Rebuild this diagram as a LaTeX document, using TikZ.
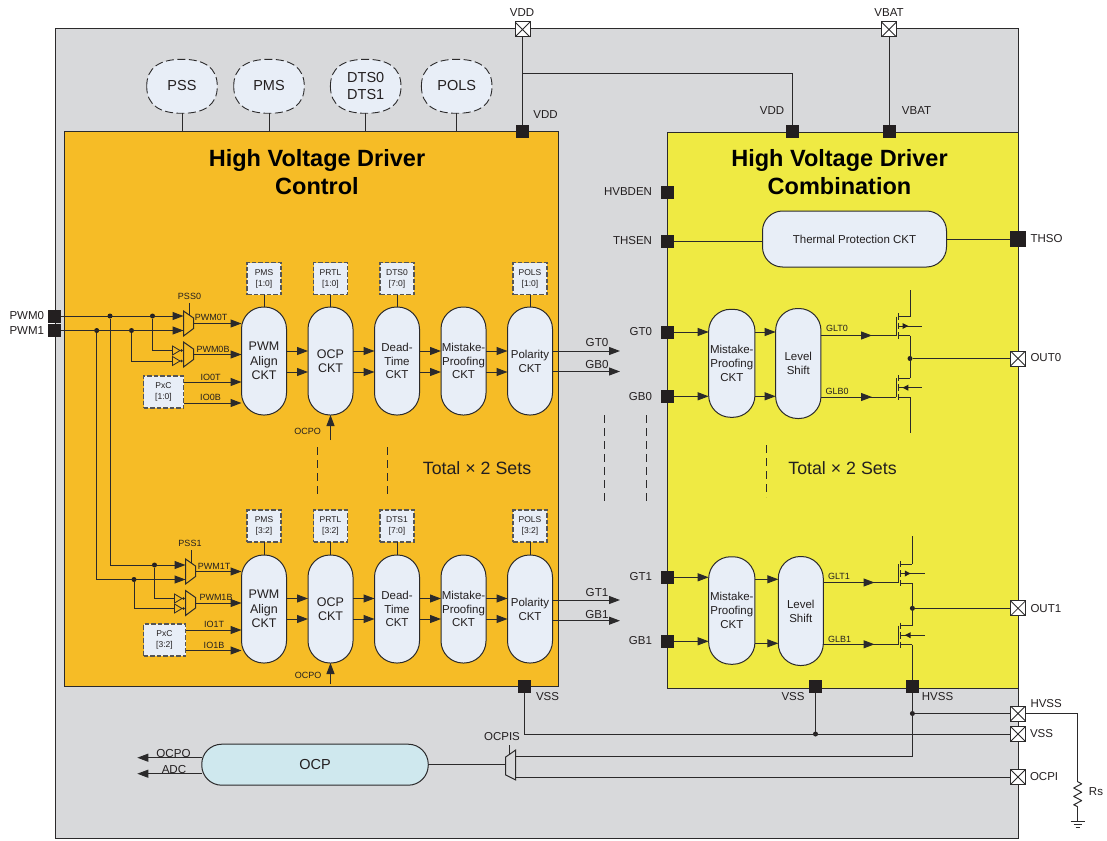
\documentclass[tikz,border=0pt]{standalone}
\usepackage{fontspec}
\setmainfont{Liberation Sans}
\usetikzlibrary{arrows.meta,calc}
\definecolor{lineC}{HTML}{2B2A2B}
\definecolor{grayBg}{HTML}{D8D9DB}
\definecolor{orangeBg}{HTML}{F6BC26}
\definecolor{yellowBg}{HTML}{EFEA43}
\definecolor{pillC}{HTML}{E8EEF7}
\definecolor{ocpC}{HTML}{CFE8EE}
\definecolor{textC}{HTML}{231F20}
\tikzset{
  x=1pt,y=-1pt,
  every node/.style={text=textC,inner sep=0pt,outer sep=0pt,align=center},
  sig/.style={draw=lineC,line width=1pt},
  arr/.style={sig,-{Triangle[length=11pt,width=8pt]}},
  region/.style={draw=lineC,line width=1pt},
  pill/.style 2 args={draw=lineC,line width=1pt,fill=pillC,rounded corners=22pt,minimum width=#1pt,minimum height=#2pt,font=\fontsize{12.5}{14.3}\selectfont},
  pilltext/.style={font=\fontsize{11.5}{13.8}\selectfont},
  ovaltext/.style={minimum width=71pt,minimum height=54pt,font=\fontsize{14.5}{17}\selectfont},
  regbox/.style={draw=lineC!80,line width=1.4pt,dash pattern=on 4.5pt off 2pt,fill=pillC,minimum width=34pt,minimum height=32pt,font=\fontsize{8.5}{11}\selectfont},
  pad/.style={fill=textC,minimum size=13pt},
  xpad/.style={draw=lineC,line width=1pt,fill=white,minimum size=15pt,path picture={\draw[lineC,line width=.8pt] (path picture bounding box.north west)--(path picture bounding box.south east) (path picture bounding box.north east)--(path picture bounding box.south west);}},
  dot/.style={circle,fill=textC,minimum size=5pt},
  lab/.style={font=\fontsize{11.5}{13}\selectfont},
  mlab/.style={font=\fontsize{11.6}{13}\selectfont},
  slab/.style={font=\fontsize{9}{11}\selectfont},
  title/.style={font=\fontsize{23.5}{28}\selectfont\bfseries,text=black},
  sets/.style={font=\fontsize{17.8}{20}\selectfont},
  dsh/.style={draw=lineC,line width=1pt,dash pattern=on 8pt off 5pt},
}
\newcommand{\blob}[2]{% centre x, centre y
  \draw[draw=lineC,line width=.9pt,dash pattern=on 8pt off 3.5pt,fill=pillC]
    (#1-35.3,#2) .. controls (#1-35.3,#2-19) and (#1-22,#2-27) .. (#1,#2-27)
    .. controls (#1+22,#2-27) and (#1+35.3,#2-19) .. (#1+35.3,#2)
    .. controls (#1+35.3,#2+19) and (#1+22,#2+27) .. (#1,#2+27)
    .. controls (#1-22,#2+27) and (#1-35.3,#2+19) .. cycle;
}
\newcommand{\muxshape}[3]{% name, left x, top y
  \draw[sig] (#2,#3) -- (#2+10,#3+7) -- (#2+10,#3+17.5) -- (#2,#3+25) -- cycle;
  \coordinate (#1) at (#2,#3+12.5);
  \coordinate (#1o) at (#2+10,#3+12.5);
}
\newcommand{\bufshape}[2]{% left x, centre y
  \draw[sig,line width=.8pt] (#1,#2-4.5) -- (#1+7.5,#2) -- (#1,#2+4.5) -- cycle;
  \fill[lineC] (#1+9,#2) circle (1.3pt);
}
\newcommand{\mosfet}[3]{% channel x, drain y, bulk direction (1 right, -1 left)
  \draw[sig] (#1-2.4,#2) -- (#1-2.4,#2+19);
  \draw[sig] (#1,#2-3.2) -- (#1,#2+3.2) (#1,#2+6.2) -- (#1,#2+12.8) (#1,#2+15.8) -- (#1,#2+22.2);
  \draw[sig] (#1,#2) -- (#1+11.7,#2) (#1,#2+9.5) -- (#1+24,#2+9.5) (#1,#2+19) -- (#1+11.7,#2+19);
  \fill[textC] (#1+7-2.9*#3,#2+9.5-3) -- (#1+7+2.9*#3,#2+9.5) -- (#1+7-2.9*#3,#2+9.5+3) -- cycle;
}
\begin{document}
\begin{tikzpicture}
\useasboundingbox (0,0) rectangle (1107,840);
% regions
\fill[white] (0,0) rectangle (1107,840);
\draw[region,fill=grayBg] (55,29) rectangle (1018,838);
\draw[region,fill=orangeBg] (64,131.5) rectangle (558,686);
\draw[region,fill=yellowBg] (667,132.5) rectangle (1018,688);
\node[title] (tL) at (317,172) {High Voltage Driver\\Control};
\node[title] (tR) at (839.5,172) {High Voltage Driver\\Combination};

% ovals
\blob{182}{86.3}
\blob{269}{86.3}
\blob{365.7}{86.3}
\blob{456.7}{86.3}
\node[ovaltext] (oPSS) at (182,86) {PSS};
\node[ovaltext] (oPMS) at (269,86) {PMS};
\node[ovaltext] (oDTS) at (365.7,86) {DTS0\\DTS1};
\node[ovaltext] (oPOLS) at (456.7,86) {POLS};
\coordinate (orTop) at (0,131.5);
\foreach \n in {oPSS,oPMS,oDTS,oPOLS} \draw[sig] (\n.south) -- (\n.south |- orTop);

% pads
\node[pad] (pPWM0) at (54.5,316) {};
\node[pad] (pPWM1) at (54.5,330.5) {};
\node[lab,anchor=east] (lPWM0) at (44,316) {PWM0};
\node[lab,anchor=east] (lPWM1) at (44,331) {PWM1};
\node[xpad] (xVDD) at (522.5,29.5) {};
\node[xpad] (xVBAT) at (889,29.5) {};
\node[lab] (lxVDD) at (522,12.5) {VDD};
\node[lab] (lxVBAT) at (889,12.5) {VBAT};
\node[pad] (pVDDL) at (522.5,131.5) {};
\node[pad] (pVDDR) at (792,131.5) {};
\node[pad] (pVBAT) at (889,131.5) {};
\node[lab] (lVDDL) at (545.5,115) {VDD};
\node[lab] (lVDDR) at (772,111) {VDD};
\node[lab] (lVBAT) at (916.5,110.5) {VBAT};
\coordinate (vddBr) at (522.5,74);
\draw[sig] (xVDD) -- (pVDDL);
\draw[sig] (vddBr) -| (pVDDR.north);
\draw[sig] (xVBAT) -- (pVBAT);

\node[pad] (pHVB) at (667.5,192) {};
\node[pad] (pTHSEN) at (667.5,241) {};
\node[pad] (pGT0) at (667.5,332) {};
\node[pad] (pGB0) at (667.5,396.3) {};
\node[pad] (pGT1) at (667.5,577.3) {};
\node[pad] (pGB1) at (667.5,641.3) {};
\node[lab,anchor=east] (lHVB) at (652,192) {HVBDEN};
\node[lab,anchor=east] (lTHSEN) at (652,241) {THSEN};
\node[lab,anchor=east] (lGT0) at (652,332) {GT0};
\node[lab,anchor=east] (lGB0) at (652,396.3) {GB0};
\node[lab,anchor=east] (lGT1) at (652,577) {GT1};
\node[lab,anchor=east] (lGB1) at (652,641) {GB1};

% thermal
\node[pill={184}{56},rounded corners=20pt,font=\fontsize{11.5}{14}\selectfont] (therm) at (854.5,239) {Thermal Protection CKT};
\node[pad,minimum size=16pt] (pTHSO) at (1018,239) {};
\node[lab,anchor=west] (lTHSO) at (1030.5,239) {THSO};
\draw[sig] (pTHSEN) -- (therm.west |- pTHSEN);
\draw[sig] (therm) -- (pTHSO);

% left pills, upper row
\node[pill={45}{108}] (a1) at (264,361) {PWM\\Align\\CKT};
\node[pill={45}{108}] (a2) at (330.5,361) {OCP\\CKT};
\node[pill={45}{108},pilltext] (a3) at (397,361) {Dead-\\Time\\CKT};
\node[pill={45}{108},pilltext] (a4) at (463.5,361) {Mistake-\\Proofing\\CKT};
\node[pill={45}{108},pilltext] (a5) at (530,361) {Polarity\\CKT};
\node[regbox] (ra1) at (264,278.5) {PMS\\{[1:0]}};
\node[regbox] (ra2) at (330.5,278.5) {PRTL\\{[1:0]}};
\node[regbox] (ra3) at (397,278.5) {DTS0\\{[7:0]}};
\node[regbox] (ra5) at (530,278.5) {POLS\\{[1:0]}};
\foreach \i in {1,2,3,5} \draw[sig] (ra\i) -- (a\i);
\foreach \i/\j in {1/2,2/3,3/4,4/5} {
  \draw[arr] (a\i.east |- 0,351) -- (a\j.west |- 0,351);
  \draw[arr] (a\i.east |- 0,372) -- (a\j.west |- 0,372);
}
% left pills, lower row
\node[pill={45}{108}] (b1) at (264,609) {PWM\\Align\\CKT};
\node[pill={45}{108}] (b2) at (330.5,609) {OCP\\CKT};
\node[pill={45}{108},pilltext] (b3) at (397,609) {Dead-\\Time\\CKT};
\node[pill={45}{108},pilltext] (b4) at (463.5,609) {Mistake-\\Proofing\\CKT};
\node[pill={45}{108},pilltext] (b5) at (530,609) {Polarity\\CKT};
\node[regbox] (rb1) at (264,526) {PMS\\{[3:2]}};
\node[regbox] (rb2) at (330.5,526) {PRTL\\{[3:2]}};
\node[regbox] (rb3) at (397,526) {DTS1\\{[7:0]}};
\node[regbox] (rb5) at (530,526) {POLS\\{[3:2]}};
\foreach \i in {1,2,3,5} \draw[sig] (rb\i) -- (b\i);
\foreach \i/\j in {1/2,2/3,3/4,4/5} {
  \draw[arr] (b\i.east |- 0,598.5) -- (b\j.west |- 0,598.5);
  \draw[arr] (b\i.east |- 0,619) -- (b\j.west |- 0,619);
}
% OCPO inputs
\coordinate (oa) at (330.5,440);
\coordinate (ob) at (330.5,684);
\draw[arr] (oa) -- (a2.south);
\draw[arr] (ob) -- (b2.south);
\node[slab] (loa) at (307.5,431) {OCPO};
\node[slab] (lob) at (308,675) {OCPO};
% PWM routing, upper
\node[dot] (j1) at (110,316) {};
\node[dot] (j2) at (96.7,330.5) {};
\node[dot] (j3) at (152.5,316) {};
\node[dot] (j4) at (131.5,330.5) {};
\muxshape{m0}{183.5}{311}
\muxshape{m0b}{183.5}{342}
\draw[arr] (pPWM0) -- (m0 |- pPWM0);
\draw[arr] (pPWM1) -- (m0 |- pPWM1);
\bufshape{172.5}{350.5}
\bufshape{172.5}{361}
\coordinate (bu) at (172.5,350.5);
\coordinate (bl) at (172.5,361);
\draw[sig] (j3) |- (bu);
\draw[sig] (j4) |- (bl);
\coordinate (ps0) at (189.5,315);
\draw[sig] (ps0) -- ++(0,-12);
\node[slab] (lps0) at (189.5,296) {PSS0};
\draw[arr] (m0o) -- (a1.west |- m0o);
\draw[arr] (m0bo) -- (a1.west |- m0bo);
\node[slab] (lw0t) at (211,317.5) {PWM0T};
\node[slab] (lw0b) at (213,349) {PWM0B};
\node[regbox,minimum width=40pt] (pxa) at (163.5,392) {PxC\\{[1:0]}};
\draw[arr] (pxa.east |- 0,382) -- (a1.west |- 0,382);
\draw[arr] (pxa.east |- 0,403) -- (a1.west |- 0,403);
\node[slab] (lio0t) at (210.5,377) {IO0T};
\node[slab] (lio0b) at (210.5,397) {IO0B};
% PWM routing, lower
\coordinate (l0) at (110,565);
\coordinate (l1) at (96.7,579.5);
\draw[sig] (j1) -- (l0);
\draw[sig] (j2) -- (l1);
\node[dot] (j5) at (154.5,565) {};
\node[dot] (j6) at (134,579.5) {};
\muxshape{m1}{185.5}{559}
\muxshape{m1b}{185.5}{590.5}
\draw[arr] (l0) -- (m1 |- l0);
\draw[arr] (l1) -- (m1 |- l1);
\bufshape{174.5}{598.5}
\bufshape{174.5}{608.5}
\coordinate (bu1) at (174.5,598.5);
\coordinate (bl1) at (174.5,608.5);
\draw[sig] (j5) |- (bu1);
\draw[sig] (j6) |- (bl1);
\coordinate (ps1) at (191.5,563);
\draw[sig] (ps1) -- ++(0,-13);
\node[slab] (lps1) at (190,543) {PSS1};
\draw[arr] (m1o) -- (b1.west |- m1o);
\draw[arr] (m1bo) -- (b1.west |- m1bo);
\node[slab] (lw1t) at (214,566) {PWM1T};
\node[slab] (lw1b) at (216,597) {PWM1B};
\node[regbox,minimum width=42pt] (pxb) at (164.5,640) {PxC\\{[3:2]}};
\draw[arr] (pxb.east |- 0,630) -- (b1.west |- 0,630);
\draw[arr] (pxb.east |- 0,650.5) -- (b1.west |- 0,650.5);
\node[slab] (lio1t) at (214,624) {IO1T};
\node[slab] (lio1b) at (214,645) {IO1B};
% GT outputs
\coordinate (gtend) at (620,0);
\draw[arr] (a5.east |- 0,351) -- (gtend |- 0,351);
\draw[arr] (a5.east |- 0,371.5) -- (gtend |- 0,371.5);
\draw[arr] (b5.east |- 0,600) -- (gtend |- 0,600);
\draw[arr] (b5.east |- 0,620.7) -- (gtend |- 0,620.7);
\node[mlab] (lgt0) at (597,342.5) {GT0};
\node[mlab] (lgb0) at (597,365) {GB0};
\node[mlab] (lgt1) at (597,592) {GT1};
\node[mlab] (lgb1) at (597,614.5) {GB1};
% dashes
\draw[dsh] (317,447) -- (317,497);
\draw[dsh] (387,447) -- (387,497);
\draw[dsh] (604,415) -- (604,503);
\draw[dsh] (646.5,415) -- (646.5,503);
\draw[dsh] (766,445) -- (766,497);
\node[sets] (s1) at (477,468) {Total × 2 Sets};
\node[sets] (s2) at (842.5,468) {Total × 2 Sets};

% right pills
\node[pill={46.3}{108},pilltext] (c1) at (731.8,363.3) {Mistake-\\Proofing\\CKT};
\node[pill={45.3}{110},pilltext] (c2) at (798.3,363.5) {Level\\Shift};
\node[pill={46.3}{107.5},pilltext] (d1) at (731.8,610.5) {Mistake-\\Proofing\\CKT};
\node[pill={45}{109},pilltext] (d2) at (800.8,611) {Level\\Shift};
\draw[arr] (pGT0) -- (c1.west |- pGT0);
\draw[arr] (pGB0) -- (c1.west |- pGB0);
\draw[arr] (pGT1) -- (d1.west |- pGT1);
\draw[arr] (pGB1) -- (d1.west |- pGB1);
\draw[arr] (c1.east |- pGT0) -- (c2.west |- pGT0);
\draw[arr] (c1.east |- pGB0) -- (c2.west |- pGB0);
\draw[arr] (d1.east |- 0,579.3) -- (d2.west |- 0,579.3);
\draw[arr] (d1.east |- 0,643.3) -- (d2.west |- 0,643.3);
% gates
\coordinate (g0t) at (896,335.5);
\coordinate (g0b) at (896,397);
\coordinate (g1t) at (898.3,582.5);
\coordinate (g1b) at (898.3,644.3);
\draw[sig] (c2.east |- g0t) -- (g0t);
\draw[sig] (c2.east |- g0b) -- (g0b);
\draw[sig] (d2.east |- g1t) -- (g1t);
\draw[sig] (d2.east |- g1b) -- (g1b);
\draw[arr] (c2.east |- g0t) -- (872,335.5);
\draw[arr] (c2.east |- g0b) -- (872,397);
\draw[arr] (d2.east |- g1t) -- (874.5,582.5);
\draw[arr] (d2.east |- g1b) -- (874.5,644.3);
\node[slab] (lglt0) at (837,328.5) {GLT0};
\node[slab] (lglb0) at (837,391.5) {GLB0};
\node[slab] (lglt1) at (839,576.5) {GLT1};
\node[slab] (lglb1) at (839.5,639) {GLB1};
\mosfet{898.4}{316.5}{1}
\mosfet{898.4}{378.2}{-1}
\mosfet{900.7}{564}{1}
\mosfet{900.7}{625.7}{-1}
% outputs
\node[dot] (j0) at (910,358.5) {};
\node[dot] (j7) at (912.4,608.3) {};
\coordinate (dt0) at (910,290);
\coordinate (st0) at (910,316.5);
\coordinate (s0) at (910,335.5);
\coordinate (d0) at (910,378.2);
\coordinate (sb0) at (910,397.2);
\coordinate (eb0) at (910,433);
\draw[sig] (dt0) -- (st0);
\draw[sig] (s0) -- (d0);
\draw[sig] (sb0) -- (eb0);
\coordinate (dt1) at (912.4,536);
\coordinate (st1) at (912.4,564);
\coordinate (s1b) at (912.4,583);
\coordinate (d1b) at (912.4,625.7);
\coordinate (sb1) at (912.4,644.7);
\draw[sig] (dt1) -- (st1);
\draw[sig] (s1b) -- (d1b);
\node[xpad] (xOUT0) at (1018,358.5) {};
\node[xpad] (xOUT1) at (1018,608.3) {};
\node[lab,anchor=west] (lOUT0) at (1030.5,358) {OUT0};
\node[lab,anchor=west] (lOUT1) at (1030.5,608.5) {OUT1};
\draw[sig] (j0) -- (xOUT0);
\draw[sig] (j7) -- (xOUT1);
% bottom pads
\node[pad] (pVSSL) at (524.5,686) {};
\node[pad] (pVSSR) at (815.5,686) {};
\node[pad] (pHVSS) at (912.4,686) {};
\node[lab] (lVSSL) at (547.5,696.5) {VSS};
\node[lab] (lVSSR) at (793,697) {VSS};
\node[lab] (lHVSS) at (937.5,697) {HVSS};
\draw[sig] (sb1) -- (pHVSS);
\node[xpad] (xHVSS) at (1018,713.5) {};
\node[xpad] (xVSS) at (1018,734) {};
\node[xpad] (xOCPI) at (1018,777) {};
\node[lab,anchor=west] (lxHVSS) at (1030.5,704) {HVSS};
\node[lab,anchor=west] (lxVSS) at (1030,733.5) {VSS};
\node[lab,anchor=west] (lxOCPI) at (1030,777) {OCPI};
\node[dot] (j8) at (912.4,713.5) {};
\node[dot] (j9) at (815.5,734) {};
\draw[sig] (j8) -- (xHVSS);
\draw[sig] (pVSSL) |- (xVSS);
\draw[sig] (pVSSR) -- (j9);
% OCP
\node[pill={226.5}{41},fill=ocpC,rounded corners=20pt,font=\fontsize{14.5}{17}\selectfont] (ocp) at (315,764.7) {OCP};
\coordinate (ms) at (505.7,764.7);
\draw[sig] (505.7,757) -- (515.7,750) -- (515.7,780) -- (505.7,775) -- cycle;
\coordinate (miT) at (515.7,756.7);
\coordinate (miB) at (515.7,776.7);
\draw[sig] (ocp) -- (ms);
\draw[sig] (pHVSS) |- (miT);
\draw[sig] (xOCPI) -| (miB);
\draw[sig] (509.3,754) -- (509.3,745);
\node[lab] (lOCPIS) at (502,736.5) {OCPIS};
\coordinate (oo) at (137.3,757.7);
\coordinate (oad) at (137.3,773.7);
\draw[arr] (ocp.west |- oo) -- (oo);
\draw[arr] (ocp.west |- oad) -- (oad);
\node[mlab] (lo1) at (173.5,753) {OCPO};
\node[mlab] (lo2) at (174,769) {ADC};
% Rs
\coordinate (rs1) at (1077.7,781.7);
\coordinate (rs2) at (1077.7,806.7);
\coordinate (gnd) at (1077.7,821.7);
\draw[sig] (xHVSS) -| (rs1);
\draw[sig,line join=round] (rs1) -- ++(4,2.1) -- ++(-8,4.2) -- ++(8,4.2) -- ++(-8,4.2) -- ++(8,4.2) -- ++(-8,4.2) -- (rs2);
\draw[sig] (rs2) -- (gnd);
\draw[sig] (gnd) ++(-7,0) -- ++(14,0) ++(-11,3) -- ++(8,0) ++(-6,3) -- ++(4,0);
\node[lab] (lRs) at (1096,792) {Rs};
\end{tikzpicture}
\end{document}
